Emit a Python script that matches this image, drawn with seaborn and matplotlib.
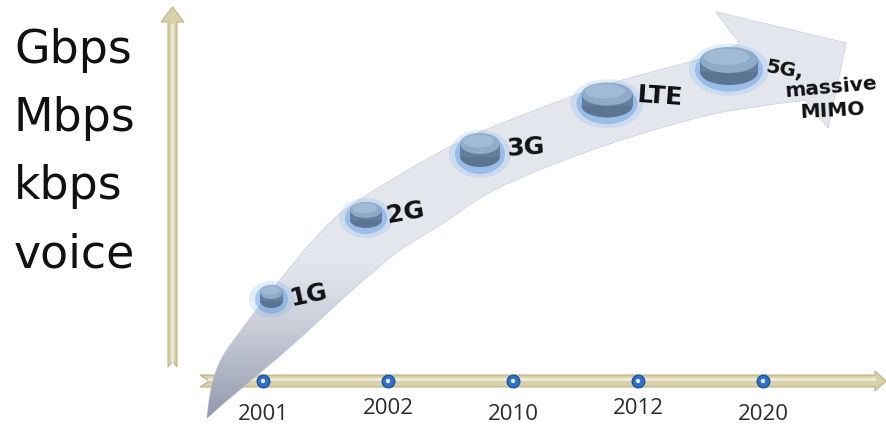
import numpy as np
import pandas as pd
import matplotlib
matplotlib.use("Agg")
import matplotlib.pyplot as plt
from matplotlib.patches import Polygon, Ellipse, Rectangle
from matplotlib.colors import to_rgb
import seaborn as sns

# ---------------- data ----------------
years = ["2001", "2002", "2010", "2012", "2020"]
speed_levels = ["voice", "kbps", "Mbps", "Gbps"]
generations = ["1G", "2G", "3G", "LTE", "5G,\nmassive\nMIMO"]
gen_year_pos = [0.068, 0.824, 1.736, 2.752, 3.728]      # position along the year axis (index units)
gen_speed_level = [-0.434, 0.765, 1.72, 2.456, 2.956]   # position on the speed scale (level units)

# ---------------- style ----------------
disc_w = [23, 32, 40, 51, 58]        # px
disc_top = [14, 16, 21, 23, 26]      # px
disc_side = [9, 10, 13, 12, 12]      # px
label_rot = [[12], [10], [4], [-4], [-10, 5, 3]]
label_dx = [[18.5], [21], [27], [30], [36, 56, 71]]
label_dy = [[-2.5], [-1.5], [1], [5], [-6, -31, -52]]
label_fs = [18, 18, 18, 18, 14.5]
year_label_dy = [-33, -28, -33, -28, -33]

W, H = 886, 428
X0, SX = 263, 125     # pixel of year index 0, pixels per index
Y0, SY = 267, 68      # pixel of level 0, pixels per level
AXIS_PX = 381


def p2d(x, y):
    return ((x - X0) / SX, (Y0 - y) / SY)


def catmull(pts, n=14):
    P = np.array(pts, float)
    P = np.vstack([P[0], P, P[-1]])
    out = []
    for i in range(1, len(P) - 2):
        p0, p1, p2, p3 = P[i - 1], P[i], P[i + 1], P[i + 2]
        for t in np.linspace(0, 1, n, endpoint=False):
            t2, t3 = t * t, t * t * t
            out.append(0.5 * (2 * p1 + (-p0 + p2) * t
                              + (2 * p0 - 5 * p1 + 4 * p2 - p3) * t2
                              + (-p0 + 3 * p1 - 3 * p2 + p3) * t3))
    out.append(P[-2])
    return [tuple(p) for p in out]


sns.set_theme(style="white")
plt.rcParams["font.family"] = ["DejaVu Sans"]

fig = plt.figure(figsize=(W / 100, H / 100), dpi=100)
ax = fig.add_axes([0, 0, 1, 1])
xl = ((0 - X0) / SX, (W - X0) / SX)
yl = ((Y0 - H) / SY, Y0 / SY)
ax.set_xlim(*xl)
ax.set_ylim(*yl)
ax.axis("off")

bar_face = "#d8d1a9"
bar_edge = "#bdb48a"
bar_light = "#ede9d2"

# ---- vertical speed axis (artwork) ----
vbar = [(168, 367), (172.5, 361), (177, 367), (177, 22), (184, 22), (172.5, 7),
        (161, 22), (168, 22)]
ax.add_patch(Polygon([p2d(*p) for p in vbar], closed=True, facecolor=bar_face,
                     edgecolor=bar_edge, lw=0.8, zorder=2))
ax.add_patch(Polygon([p2d(*p) for p in [(171, 362), (174, 362), (174, 24), (171, 24)]],
                     closed=True, facecolor=bar_light, edgecolor="none", zorder=2.1))

# ---- horizontal year axis (artwork) ----
hbar = [(200, 375), (209, 381), (200, 387), (875, 387), (875, 391), (886, 381),
        (875, 371), (875, 375)]
ax.add_patch(Polygon([p2d(*p) for p in hbar], closed=True, facecolor=bar_face,
                     edgecolor=bar_edge, lw=0.8, zorder=2))
ax.add_patch(Polygon([p2d(*p) for p in [(208, 378), (876, 378), (876, 381), (208, 381)]],
                     closed=True, facecolor=bar_light, edgecolor="none", zorder=2.1))

# ---- swoosh arrow (artwork) ----
upper = [(207, 418), (212, 385), (222, 358), (240, 332), (262, 303), (285, 274),
         (312, 242), (345, 210), (400, 175), (450, 147), (500, 124), (600, 87),
         (700, 59), (740, 44)]
head = [(716, 12), (846, 43), (828, 128)]
lower = [(806, 100), (760, 106), (700, 117), (600, 147), (500, 187), (440, 225),
         (400, 250), (367, 277), (340, 301), (313, 326), (283, 353), (250, 381),
         (225, 402), (207, 418)]
outline = catmull(upper) + head + catmull(lower)
swoosh = Polygon([p2d(*p) for p in outline], closed=True, facecolor="#e2e5ec",
                 edgecolor="#c6cad5", lw=0.8, zorder=3)
ax.add_patch(swoosh)
yy = np.arange(H)[:, None] * np.ones((1, W))
t = np.clip((yy - 250) / 170, 0, 1) ** 1.4
light = np.array(to_rgb("#e4e7ee"))
dark = np.array(to_rgb("#8e96aa"))
img = light * (1 - t[..., None]) + dark * t[..., None]
im = ax.imshow(img, extent=(xl[0], xl[1], yl[0], yl[1]), origin="upper",
               aspect="auto", zorder=3.1)
im.set_clip_path(swoosh)
ax.set_xlim(*xl)
ax.set_ylim(*yl)

# ---- year tick dots and labels ----
axis_level = (Y0 - AXIS_PX) / SY
ydf = pd.DataFrame({"pos": np.arange(len(years)), "lvl": axis_level, "year": years})
sns.scatterplot(data=ydf, x="pos", y="lvl", s=85, color="#2f6fc8", edgecolor="#1b4a94",
                linewidth=0.8, ax=ax, zorder=5, legend=False)
sns.scatterplot(data=ydf, x="pos", y="lvl", s=10, color="#dfeafa", edgecolor="none",
                ax=ax, zorder=6, legend=False)
for i, yr in enumerate(years):
    ax.annotate(yr, xy=(i, axis_level), xytext=(0, year_label_dy[i]),
                textcoords="offset pixels", ha="center", va="center",
                fontsize=16, color="#2b2b2b", family=["Open Sans", "DejaVu Sans"],
                zorder=6)

# ---- speed labels ----
for lvl, lab in enumerate(speed_levels):
    ax.text(p2d(14, 0)[0], lvl, lab, ha="left", va="baseline", fontsize=33,
            color="#111111", zorder=6)

# ---- generation discs ----
for i, g in enumerate(generations):
    cx, cy = gen_year_pos[i], gen_speed_level[i]
    w = disc_w[i] / SX
    a = disc_top[i] / SY
    s = disc_side[i] / SY
    h = a + s
    ax.add_patch(Ellipse((cx, cy - s * 0.3), (disc_w[i] + 22) / SX, h + 14 / SY,
                         facecolor="#6ea8ea", alpha=0.2, edgecolor="none", zorder=4))
    ax.add_patch(Ellipse((cx, cy - s * 0.3), (disc_w[i] + 10) / SX, h + 6 / SY,
                         facecolor="#4f92e2", alpha=0.4, edgecolor="none", zorder=4.1))
    ax.add_patch(Ellipse((cx, cy - s / 2), w, a, facecolor="#5a7492", edgecolor="none",
                         zorder=4.2))
    ax.add_patch(Rectangle((cx - w / 2, cy - s / 2), w, s, facecolor="#637e9c",
                           edgecolor="none", zorder=4.2))
    ax.add_patch(Ellipse((cx, cy + s / 2), w, a, facecolor="#8eacca", edgecolor="none",
                         zorder=4.3))
    ax.add_patch(Ellipse((cx - w * 0.04, cy + s / 2 + a * 0.12), w * 0.78, a * 0.62,
                         facecolor="#a6c0da", alpha=0.8, edgecolor="none", zorder=4.4))
    lines = g.split("\n")
    for k, line in enumerate(lines):
        ax.annotate(line, xy=(cx, cy), xytext=(label_dx[i][k], label_dy[i][k]),
                    textcoords="offset pixels", ha="left",
                    va="center" if len(lines) == 1 else "baseline",
                    rotation=label_rot[i][k], rotation_mode="anchor",
                    fontsize=label_fs[i], fontweight="bold", color="#111111",
                    zorder=7)

fig.savefig("out.png", dpi=100)
